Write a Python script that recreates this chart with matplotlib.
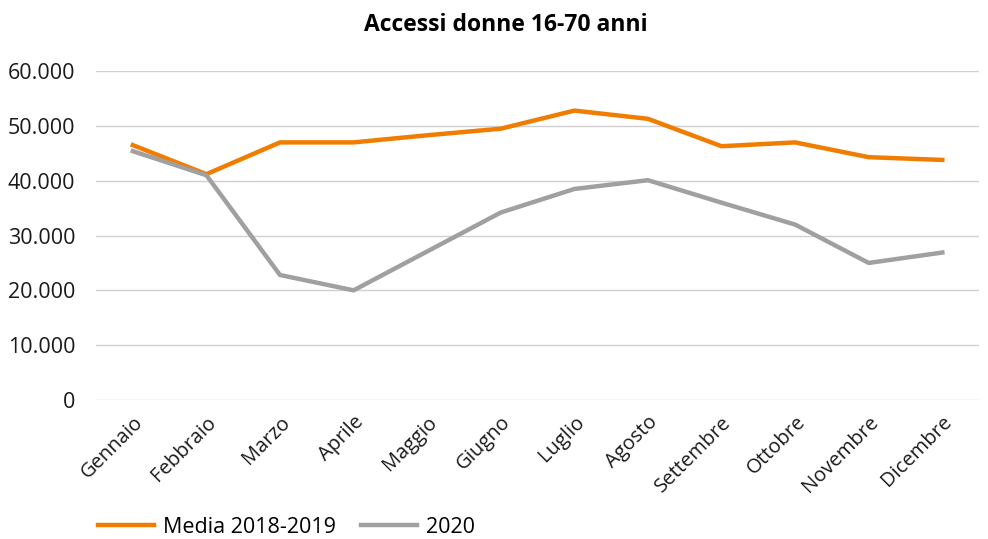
import matplotlib.pyplot as plt
from matplotlib.ticker import FuncFormatter

plt.rcParams['font.family'] = ['Open Sans', 'DejaVu Sans']

mesi = ['Gennaio', 'Febbraio', 'Marzo', 'Aprile', 'Maggio', 'Giugno', 'Luglio',
        'Agosto', 'Settembre', 'Ottobre', 'Novembre', 'Dicembre']
media_2018_2019 = [46500, 41200, 47000, 47000, 48300, 49500, 52800,
                   51300, 46300, 47000, 44300, 43800]
anno_2020 = [45400, 41000, 22800, 20000, 27100, 34200, 38500,
             40100, 36000, 32000, 25000, 26900]

fig = plt.figure(figsize=(9.88, 5.39), dpi=100)
ax = fig.add_axes([0.0972, 0.258, 0.8938, 0.610])

x = range(len(mesi))
ax.plot(x, media_2018_2019, color='#F07D00', linewidth=3.2, label='Media 2018-2019')
ax.plot(x, anno_2020, color='#A0A0A0', linewidth=3.2, label='2020')

ax.set_xlim(-0.5, len(mesi) - 0.5)
ax.set_ylim(0, 60000)
ax.set_yticks(range(0, 60001, 10000))
ax.yaxis.set_major_formatter(FuncFormatter(lambda v, p: f'{int(v):,}'.replace(',', '.')))
ax.grid(axis='y', color='#D0D0D0', linewidth=1)
ax.set_axisbelow(True)
for s in ax.spines.values():
    s.set_visible(False)
ax.tick_params(axis='both', length=0, labelsize=15.5, colors='#1a1a1a')
ax.tick_params(axis='y', pad=15)

ax.set_xticks(list(x))
ax.set_xticklabels(mesi, rotation=45, ha='right', rotation_mode='anchor')
ax.tick_params(axis='x', pad=9, labelsize=14.5)
for lbl in ax.get_xticklabels():
    lbl.set_x(lbl.get_position()[0])

fig.text(0.512, 0.953, 'Accessi donne 16-70 anni', ha='center', va='center',
         fontsize=16.5, fontweight='bold')

fig.legend(loc='center left', bbox_to_anchor=(0.0992, 0.022), ncol=2, frameon=False,
           fontsize=15.5, handlelength=2.6, columnspacing=1.2, handletextpad=0.4,
           borderpad=0, borderaxespad=0)

fig.savefig('out.png', dpi=100)
